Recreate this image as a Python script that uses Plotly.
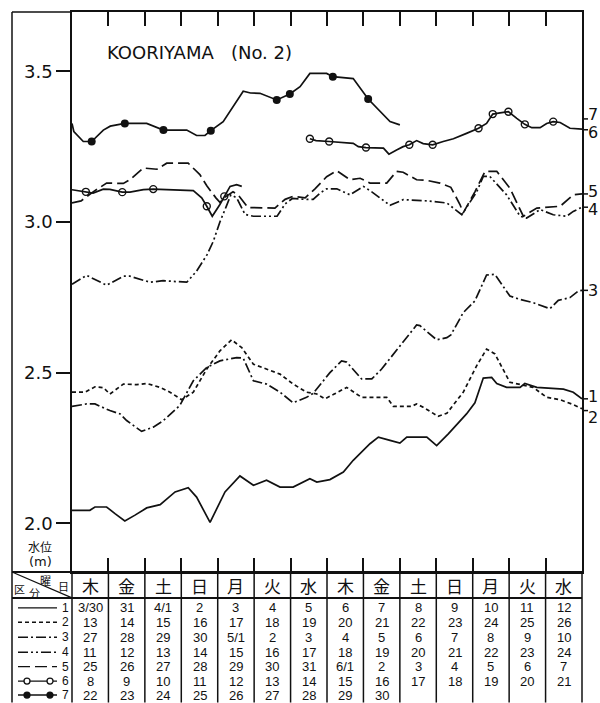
import plotly.graph_objects as go

# ---------------- data ----------------
weekdays = ["木", "金", "土", "日", "月", "火", "水", "木", "金", "土", "日", "月", "火", "水"]
date_rows = [
    ["3/30", "31", "4/1", "2", "3", "4", "5", "6", "7", "8", "9", "10", "11", "12"],
    ["13", "14", "15", "16", "17", "18", "19", "20", "21", "22", "23", "24", "25", "26"],
    ["27", "28", "29", "30", "5/1", "2", "3", "4", "5", "6", "7", "8", "9", "10"],
    ["11", "12", "13", "14", "15", "16", "17", "18", "19", "20", "21", "22", "23", "24"],
    ["25", "26", "27", "28", "29", "30", "31", "6/1", "2", "3", "4", "5", "6", "7"],
    ["8", "9", "10", "11", "12", "13", "14", "15", "16", "17", "18", "19", "20", "21"],
    ["22", "23", "24", "25", "26", "27", "28", "29", "30", "", "", "", "", ""],
]
y_ticks = [2.0, 2.5, 3.0, 3.5]
y_tick_text = ["2.0", "2.5", "3.0", "3.5"]

s1_day = [0, 0.49, 0.63, 0.95, 1.18, 1.45, 1.73, 2.05, 2.42, 2.83, 3.19, 3.42, 3.79, 4.20, 4.61, 4.98,
          5.34, 5.71, 6.07, 6.53, 6.72, 7.08, 7.45, 7.72, 8.18, 8.41, 8.73, 9.00, 9.19, 9.74, 10.01,
          10.33, 10.83, 11.06, 11.29, 11.52, 11.66, 11.93, 12.30, 12.43, 12.76, 13.49, 13.76, 14.0]
s1_val = [2.043, 2.043, 2.054, 2.054, 2.032, 2.008, 2.027, 2.051, 2.062, 2.104, 2.118, 2.087, 2.003,
          2.104, 2.157, 2.126, 2.143, 2.12, 2.12, 2.148, 2.137, 2.145, 2.17, 2.209, 2.264, 2.286, 2.275,
          2.266, 2.286, 2.286, 2.258, 2.297, 2.363, 2.40, 2.482, 2.484, 2.464, 2.451, 2.451, 2.464,
          2.451, 2.445, 2.435, 2.413]

s2_day = [0, 0.36, 0.63, 0.86, 1.04, 1.41, 1.78, 2.05, 2.42, 2.69, 3.01, 3.33, 3.70, 4.06, 4.38, 4.66,
          4.98, 5.34, 5.71, 6.07, 6.44, 6.72, 6.94, 7.17, 7.54, 7.95, 8.64, 8.82, 9.32, 9.46, 9.64,
          10.05, 10.29, 10.74, 11.11, 11.38, 11.61, 12.02, 12.30, 12.66, 13.03, 13.40, 13.76, 14.0]
s2_val = [2.435, 2.435, 2.453, 2.45, 2.429, 2.462, 2.46, 2.464, 2.451, 2.435, 2.41, 2.435, 2.512,
          2.572, 2.609, 2.583, 2.528, 2.512, 2.495, 2.462, 2.435, 2.429, 2.413, 2.427, 2.451, 2.418,
          2.418, 2.388, 2.388, 2.396, 2.385, 2.355, 2.365, 2.435, 2.523, 2.578, 2.562, 2.468, 2.46,
          2.451, 2.418, 2.41, 2.394, 2.38]

s3_day = [0, 0.40, 0.63, 1.04, 1.32, 1.50, 1.91, 2.23, 2.51, 2.96, 3.33, 3.70, 4.06, 4.52, 4.70, 4.98,
          5.34, 5.71, 6.07, 6.44, 6.62, 6.81, 7.08, 7.40, 7.54, 7.95, 8.23, 8.50, 9.00, 9.46, 9.55,
          10.01, 10.29, 10.40, 10.74, 11.06, 11.38, 11.61, 12.02, 12.30, 12.66, 13.12, 13.35, 13.67,
          13.90, 14.0]
s3_val = [2.388, 2.396, 2.396, 2.374, 2.363, 2.341, 2.305, 2.319, 2.341, 2.391, 2.473, 2.517, 2.539,
          2.55, 2.548, 2.473, 2.462, 2.435, 2.40, 2.418, 2.431, 2.46, 2.50, 2.539, 2.535, 2.479, 2.479,
          2.512, 2.59, 2.658, 2.656, 2.609, 2.616, 2.625, 2.699, 2.738, 2.824, 2.826, 2.754, 2.743,
          2.732, 2.712, 2.74, 2.749, 2.771, 2.773]

s4_day = [0, 0.40, 0.95, 1.41, 1.59, 2.14, 2.50, 3.15, 3.42, 3.70, 3.88, 4.06, 4.23, 4.36, 4.52, 4.75,
          4.98, 5.63, 5.85, 6.05, 6.40, 6.62, 6.81, 6.99, 7.27, 7.63, 8.00, 8.23, 8.73, 9.09, 9.74,
          10.29, 10.70, 11.11, 11.29, 11.47, 11.93, 12.30, 12.48, 12.85, 13.21, 13.58, 13.76, 14.0]
s4_val = [2.793, 2.823, 2.79, 2.82, 2.82, 2.80, 2.805, 2.80, 2.837, 2.89, 2.936, 3.00, 3.05, 3.09,
          3.08, 3.025, 3.019, 3.019, 3.06, 3.078, 3.075, 3.075, 3.096, 3.11, 3.11, 3.09, 3.118, 3.10,
          3.055, 3.074, 3.07, 3.063, 3.024, 3.10, 3.151, 3.151, 3.09, 3.019, 3.013, 3.041, 3.024,
          3.019, 3.035, 3.049]

s5_day = [0, 0.25, 0.58, 0.95, 1.41, 1.59, 1.96, 2.33, 2.60, 3.19, 3.51, 3.70, 3.95, 4.06, 4.23, 4.42,
          4.56, 4.83, 5.57, 5.85, 6.07, 6.40, 6.67, 6.99, 7.27, 7.63, 7.91, 8.18, 8.64, 8.91, 9.09,
          9.46, 9.74, 10.10, 10.40, 10.65, 10.74, 11.06, 11.34, 11.66, 12.02, 12.39, 12.76, 13.12,
          13.40, 13.76, 14.0]
s5_val = [3.063, 3.07, 3.10, 3.129, 3.128, 3.14, 3.179, 3.175, 3.195, 3.195, 3.157, 3.12, 3.08, 3.065,
          3.085, 3.10, 3.09, 3.048, 3.046, 3.075, 3.085, 3.08, 3.11, 3.15, 3.17, 3.14, 3.145, 3.129,
          3.129, 3.168, 3.165, 3.14, 3.138, 3.129, 3.115, 3.058, 3.03, 3.10, 3.168, 3.168, 3.112,
          3.019, 3.046, 3.05, 3.052, 3.09, 3.093]

s6_day = [0, 0.38, 0.58, 0.86, 1.04, 1.38, 1.59, 1.96, 2.23, 3.33, 3.56, 3.70, 3.85, 4.06, 4.18, 4.34,
          4.52, 4.66, None,
          6.53, 6.70, 7.06, 7.72, 7.86, 8.07, 8.55, 8.70, 8.91, 9.09, 9.26, 9.46, 9.64, 9.90, 10.19,
          10.47, 10.83, 11.16, 11.38, 11.55, 11.75, 11.98, 12.21, 12.43, 12.62, 12.85, 13.03, 13.21,
          13.40, 13.67, 14.0]
s6_val = [3.107, 3.10, 3.096, 3.109, 3.108, 3.099, 3.099, 3.107, 3.109, 3.104, 3.08, 3.052, 3.019,
          3.058, 3.085, 3.118, 3.124, 3.118, None,
          3.276, 3.27, 3.267, 3.261, 3.25, 3.247, 3.245, 3.225, 3.239, 3.25, 3.256, 3.27, 3.26, 3.256,
          3.267, 3.276, 3.294, 3.311, 3.327, 3.358, 3.362, 3.366, 3.344, 3.324, 3.313, 3.313, 3.327,
          3.333, 3.33, 3.311, 3.308]
s6_mark_day = [0.38, 1.38, 2.23, 3.70, 4.18, 6.53, 7.06, 8.07, 9.26, 9.90, 11.16, 11.55, 11.98, 12.43, 13.21]
s6_mark_val = [3.10, 3.099, 3.109, 3.052, 3.085, 3.276, 3.267, 3.247, 3.256, 3.256, 3.311, 3.358, 3.366,
               3.324, 3.333]

s7_day = [0, 0.05, 0.31, 0.54, 0.86, 1.05, 1.45, 2.05, 2.51, 3.15, 3.42, 3.65, 3.81, 4.15, 4.70, 4.90,
          5.16, 5.40, 5.62, 5.98, 6.26, 6.53, 6.99, 7.16, 7.72, 8.13, 8.73, 9.0]
s7_val = [3.327, 3.30, 3.267, 3.267, 3.305, 3.318, 3.327, 3.327, 3.305, 3.305, 3.287, 3.287, 3.303,
          3.333, 3.434, 3.428, 3.427, 3.415, 3.405, 3.425, 3.449, 3.493, 3.493, 3.482, 3.476, 3.408,
          3.333, 3.322]
s7_mark_day = [0.54, 1.45, 2.51, 3.81, 5.62, 5.98, 7.16, 8.13]
s7_mark_val = [3.267, 3.327, 3.305, 3.303, 3.405, 3.425, 3.482, 3.408]

series_labels = ["1", "2", "3", "4", "5", "6", "7"]
end_tick_vals = [2.413, 2.374, 2.773, 3.049, 3.093, 3.306, 3.342]
end_text_vals = [2.42, 2.352, 2.771, 3.043, 3.10, 3.298, 3.358]

# ---------------- styling ----------------
W, H = 600, 703
ML, MR, MT, MB = 72, 18, 10, 131
PW, PH = W - ML - MR, H - MT - MB
INK = "#111111"
dashes = ["solid", "4px,3px", "10px,3px,2px,3px", "10px,3px,2px,3px,2px,3px", "12px,5px", "solid", "solid"]
LW = 1.7


def px(xp):
    return (xp - ML) / PW


def py(yp):
    return (MT + PH - yp) / PH


def note(x, y, text, size, family="DejaVu Sans", xref="paper", yref="paper", xanchor="center"):
    return dict(xref=xref, yref=yref, x=x, y=y, text=text, showarrow=False, xanchor=xanchor,
                yanchor="middle", borderpad=0, font=dict(size=size, color=INK, family=family))


fig = go.Figure()
all_days = [s1_day, s2_day, s3_day, s4_day, s5_day, s6_day, s7_day]
all_vals = [s1_val, s2_val, s3_val, s4_val, s5_val, s6_val, s7_val]
for i in range(7):
    fig.add_trace(go.Scatter(x=all_days[i], y=all_vals[i], mode="lines",
                             line=dict(color=INK, width=LW, dash=dashes[i]),
                             connectgaps=False, hoverinfo="skip", showlegend=False))
fig.add_trace(go.Scatter(x=s6_mark_day, y=s6_mark_val, mode="markers",
                         marker=dict(symbol="circle-open", size=7, color=INK, line=dict(width=1.4, color=INK)),
                         showlegend=False, hoverinfo="skip"))
fig.add_trace(go.Scatter(x=s7_mark_day, y=s7_mark_val, mode="markers",
                         marker=dict(symbol="circle", size=8, color=INK),
                         showlegend=False, hoverinfo="skip"))

shapes = []
line_k = dict(color=INK, width=1.5)
# outer frame / table grid
shapes.append(dict(type="line", xref="paper", yref="paper", x0=px(12), x1=px(12), y0=1, y1=py(H), line=line_k))
shapes.append(dict(type="line", xref="paper", yref="paper", x0=px(12), x1=0, y0=1, y1=1, line=line_k))
shapes.append(dict(type="line", xref="paper", yref="paper", x0=0, x1=0, y0=0, y1=py(H), line=line_k))
shapes.append(dict(type="line", xref="paper", yref="paper", x0=1, x1=1, y0=0, y1=py(H), line=line_k))
shapes.append(dict(type="line", xref="paper", yref="paper", x0=px(12), x1=1, y0=0, y1=0,
                   line=dict(color=INK, width=2)))
shapes.append(dict(type="line", xref="paper", yref="paper", x0=px(12), x1=1, y0=py(598), y1=py(598),
                   line=dict(color=INK, width=2)))
shapes.append(dict(type="line", xref="paper", yref="paper", x0=px(12), x1=0, y0=0, y1=py(598),
                   line=dict(color=INK, width=1.2)))
for d in range(1, 14):
    shapes.append(dict(type="line", xref="x", yref="paper", x0=d, x1=d, y0=0, y1=py(H), line=line_k))

# legend samples in the table's left column
row_y = [608, 622.5, 637.5, 652.5, 667, 681.5, 695.5]
annotations = []
for i in range(7):
    yy = py(row_y[i])
    shapes.append(dict(type="line", xref="paper", yref="paper", x0=px(18), x1=px(57), y0=yy, y1=yy,
                       line=dict(color=INK, width=1.4, dash=dashes[i])))
    if i in (5, 6):
        for cx in (27, 50):
            shapes.append(dict(type="circle", xref="paper", yref="paper", xsizemode="pixel",
                               ysizemode="pixel", xanchor=px(cx), yanchor=yy, x0=-3, x1=3, y0=-3, y1=3,
                               fillcolor="white" if i == 5 else INK, line=dict(color=INK, width=1.3)))
    annotations.append(note(px(65), yy, series_labels[i], 12, family="Liberation Sans"))

# right end labels
for i in range(7):
    shapes.append(dict(type="line", xref="paper", yref="y", x0=1, x1=px(588),
                       y0=end_tick_vals[i], y1=end_tick_vals[i], line=line_k))
    annotations.append(note(px(587), end_text_vals[i], series_labels[i], 16, yref="y", xanchor="left"))

# weekday header & dates
for d in range(14):
    annotations.append(note(d + 0.5, py(586), weekdays[d], 17, family="Noto Sans CJK JP", xref="x"))
    for r in range(7):
        if date_rows[r][d]:
            annotations.append(note(d + 0.5, py(row_y[r]), date_rows[r][d], 13,
                                    family="Liberation Sans", xref="x"))

# header cell labels
for t, xx, yy in [("区", 19, 589), ("分", 34, 593), ("曜", 45, 580), ("日", 63, 586)]:
    annotations.append(note(px(xx), py(yy), t, 11, family="Noto Sans CJK JP"))

# y-axis title
annotations.append(note(px(40), py(546), "水位", 12, family="Noto Sans CJK JP"))
annotations.append(note(px(40), py(561), "(m)", 13))
# title
annotations.append(note(px(106), py(51), "KOORIYAMA   (No. 2)", 18, xanchor="left"))

fig.update_layout(
    width=W, height=H, margin=dict(l=ML, r=MR, t=MT, b=MB),
    paper_bgcolor="white", plot_bgcolor="white",
    shapes=shapes, annotations=annotations, showlegend=False,
    xaxis=dict(range=[0, 14], showgrid=False, zeroline=False, showline=True, linecolor=INK, linewidth=2,
               mirror="ticks", ticks="inside", ticklen=14, tickwidth=1.5, tickcolor=INK,
               tickvals=list(range(1, 14)), showticklabels=False, fixedrange=True),
    yaxis=dict(range=[1.8383, 3.6968], showgrid=False, zeroline=False, showline=True, linecolor=INK,
               linewidth=1.5, mirror=True, ticks="outside", ticklen=14, tickwidth=1.5, tickcolor=INK,
               tickvals=y_ticks, ticktext=y_tick_text, tickfont=dict(size=18, color=INK, family="DejaVu Sans"),
               fixedrange=True),
)

fig.write_html("out.html", config={"displayModeBar": False},
               post_script="document.body.style.margin='0';")
